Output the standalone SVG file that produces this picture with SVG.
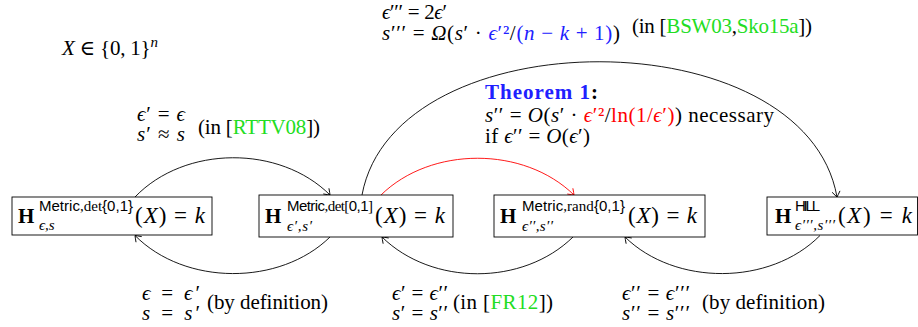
<svg xmlns="http://www.w3.org/2000/svg" width="918" height="327" viewBox="0 0 918 327">
<style>
.t{font-family:"Liberation Serif","DejaVu Serif",serif;font-size:21px;fill:#000}
.m{font-size:23px}
.i{font-style:italic}
.b{font-weight:bold}
.sf{font-family:"Liberation Sans","DejaVu Sans",sans-serif}
.sm{font-size:15px}
.g{fill:#22dd22}
.bl{fill:#2020ff}
.r{fill:#ff0000}
.box{fill:#fff;stroke:#000;stroke-width:0.9}
.c{fill:none;stroke:#000;stroke-width:0.9}
.cr{fill:none;stroke:#ff0000;stroke-width:0.9}
</style>
<defs>
<marker id="ah" markerUnits="userSpaceOnUse" markerWidth="12" markerHeight="12" refX="0" refY="0" viewBox="-7 -6 8 12" orient="auto" overflow="visible">
<path d="M-5.5,-4 Q-1.5,-1.2 0,0 Q-1.5,1.2 -5.5,4" fill="none" stroke="#000" stroke-width="0.9"/>
</marker>
<marker id="ahr" markerUnits="userSpaceOnUse" markerWidth="12" markerHeight="12" refX="0" refY="0" viewBox="-7 -6 8 12" orient="auto" overflow="visible">
<path d="M-5.5,-4 Q-1.5,-1.2 0,0 Q-1.5,1.2 -5.5,4" fill="none" stroke="#ff0000" stroke-width="0.9"/>
</marker>
</defs>
<rect width="918" height="327" fill="#fff"/>

<g id="connectors">
<path class="c" d="M135,197 C185,145 280,145 330,195" marker-end="url(#ah)"/>
<path class="c" d="M330,237 C280,286 185,286 135,235.5" marker-end="url(#ah)"/>
<path class="cr" d="M381,195 C431,146 524,146 574,195" marker-end="url(#ahr)"/>
<path class="c" d="M573,237 C523,286 432,286 382,237" marker-end="url(#ah)"/>
<path class="c" d="M362,195 C395,17 805,17 837,197" marker-end="url(#ah)"/>
<path class="c" d="M820,235.5 C770,286 675,286 625,237" marker-end="url(#ah)"/>
</g>

<g id="node1">
<rect class="box" x="12" y="197" width="200" height="38"/>
<text class="t b" x="18" y="223" font-size="23" textLength="20">H</text>
<text class="t sm" x="39" y="211" textLength="94"><tspan class="sf">Metric</tspan>,det<tspan class="sf">{0,1}</tspan></text>
<text class="t sm i" x="39" y="230">ϵ,s</text>
<text class="t m" x="135" y="223" textLength="70">(<tspan class="i">X</tspan>) = <tspan class="i">k</tspan></text>
</g>

<g id="node2">
<rect class="box" x="259" y="195" width="194" height="42"/>
<text class="t b" x="265" y="223" font-size="23" textLength="20">H</text>
<text class="t sm" x="287" y="211" textLength="86"><tspan class="sf">Metric</tspan>,det[<tspan class="sf">0,1</tspan>]</text>
<text class="t sm i" x="287" y="231" textLength="25">ϵ′,s′</text>
<text class="t m" x="375" y="223" textLength="70">(<tspan class="i">X</tspan>) = <tspan class="i">k</tspan></text>
</g>

<g id="node3">
<rect class="box" x="494" y="195" width="211" height="42"/>
<text class="t b" x="500" y="223" font-size="23" textLength="20">H</text>
<text class="t sm" x="522" y="211" textLength="103"><tspan class="sf">Metric</tspan>,rand<tspan class="sf">{0,1}</tspan></text>
<text class="t sm i" x="522" y="231" textLength="31">ϵ′′,s′′</text>
<text class="t m" x="628" y="223" textLength="69">(<tspan class="i">X</tspan>) = <tspan class="i">k</tspan></text>
</g>

<g id="node4">
<rect class="box" x="767" y="197" width="150.5" height="38"/>
<text class="t b" x="775" y="223" font-size="23" textLength="20">H</text>
<text class="t sm sf" x="795" y="211" textLength="25">HILL</text>
<text class="t sm i" x="795" y="230" textLength="40">ϵ′′′,s′′′</text>
<text class="t m" x="838" y="223" textLength="74">(<tspan class="i">X</tspan>) = <tspan class="i">k</tspan></text>
</g>

<g id="labels">
<text class="t" x="62" y="55" textLength="96"><tspan class="i">X</tspan> ∈ {0, 1}<tspan class="i sm" dy="-8">n</tspan></text>

<text class="t" x="382" y="19" textLength="65"><tspan class="i">ϵ</tspan>′′′ = 2<tspan class="i">ϵ</tspan>′</text>
<text class="t" x="382" y="40" textLength="238"><tspan class="i">s</tspan>′′′ = <tspan class="i">Ω</tspan>(<tspan class="i">s</tspan>′ · <tspan class="bl"><tspan class="i">ϵ</tspan>′²</tspan>/<tspan class="bl">(<tspan class="i">n</tspan> − <tspan class="i">k</tspan> + 1)</tspan>)</text>
<text class="t" x="632" y="33" textLength="180">(in [<tspan class="g">BSW03</tspan>,<tspan class="g">Sko15a</tspan>])</text>

<text class="t b" x="485" y="99" textLength="113"><tspan class="bl">Theorem 1</tspan>:</text>
<text class="t" x="485" y="122" textLength="289"><tspan class="i">s</tspan>′′ = <tspan class="i">O</tspan>(<tspan class="i">s</tspan>′ · <tspan class="r"><tspan class="i">ϵ</tspan>′²</tspan>/<tspan class="r">ln(1/<tspan class="i">ϵ</tspan>′)</tspan>) necessary</text>
<text class="t" x="485" y="143" textLength="105">if <tspan class="i">ϵ</tspan>′′ = <tspan class="i">O</tspan>(<tspan class="i">ϵ</tspan>′)</text>

<text class="t" x="137" y="121" textLength="48"><tspan class="i">ϵ</tspan>′ = <tspan class="i">ϵ</tspan></text>
<text class="t" x="137" y="141" textLength="48"><tspan class="i">s</tspan>′ ≈ <tspan class="i">s</tspan></text>
<text class="t" x="198" y="134" textLength="122">(in [<tspan class="g">RTTV08</tspan>])</text>

<text class="t" x="142" y="300" textLength="58"><tspan class="i">ϵ</tspan> = <tspan class="i">ϵ</tspan>′</text>
<text class="t" x="142" y="320" textLength="58"><tspan class="i">s</tspan> = <tspan class="i">s</tspan>′</text>
<text class="t" x="207" y="309" textLength="121">(by definition)</text>

<text class="t" x="392" y="300" textLength="56"><tspan class="i">ϵ</tspan>′ = <tspan class="i">ϵ</tspan>′′</text>
<text class="t" x="392" y="320" textLength="56"><tspan class="i">s</tspan>′ = <tspan class="i">s</tspan>′′</text>
<text class="t" x="453" y="309" textLength="100">(in [<tspan class="g">FR12</tspan>])</text>

<text class="t" x="622" y="300" textLength="68"><tspan class="i">ϵ</tspan>′′ = <tspan class="i">ϵ</tspan>′′′</text>
<text class="t" x="622" y="320" textLength="68"><tspan class="i">s</tspan>′′ = <tspan class="i">s</tspan>′′′</text>
<text class="t" x="702" y="309" textLength="123">(by definition)</text>
</g>
</svg>
